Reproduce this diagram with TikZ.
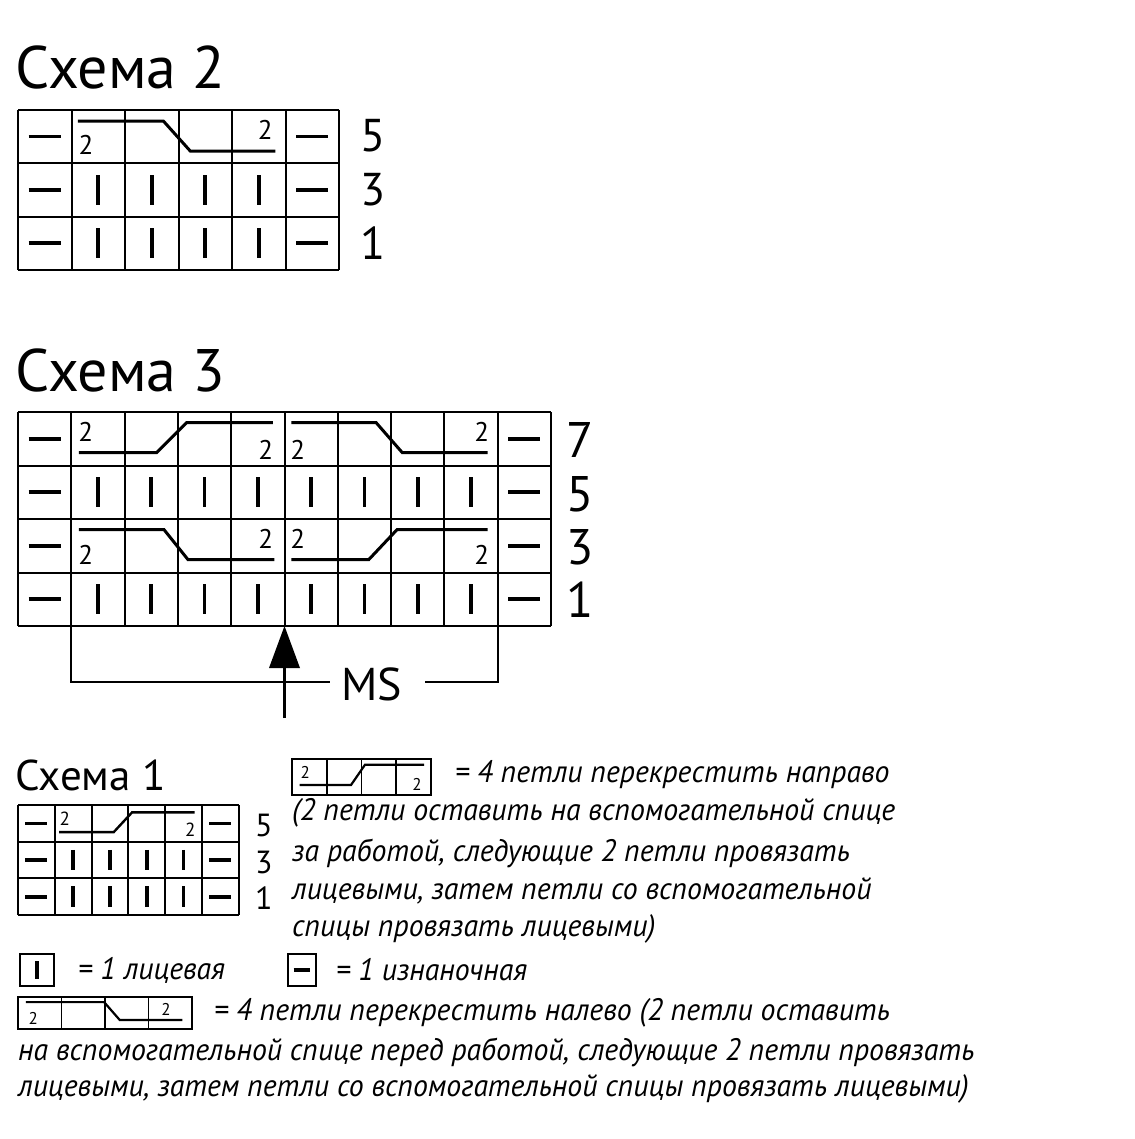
\documentclass[tikz,border=0pt]{standalone}
\usepackage{fontspec}
\setmainfont{PT Sans}
\newfontfamily\legfont[FakeStretch=0.96]{PT Sans}
\tikzset{
 gridl/.style={line width=2pt},
 sym/.style={line width=3.6pt},
 cab/.style={line width=3pt},
 title/.style={anchor=west,inner sep=0,font=\fontsize{60}{64}\selectfont},
 rnum/.style={anchor=west,inner sep=0},
 two/.style={inner sep=0},
 leg/.style={anchor=west,inner sep=0,font=\legfont\itshape\fontsize{31}{34}\selectfont},
}
\newcommand\knit[2]{\draw[sym] (#1+.5,#2+.22)--(#1+.5,#2+.78);}
\newcommand\purl[2]{\draw[sym] (#1+.2,#2+.5)--(#1+.8,#2+.5);}
\newcommand\gridbox[3][gridl]{%
 \foreach \i in {0,...,#2}{\draw[#1] (\i,0)--(\i,#3);}
 \foreach \j in {0,...,#3}{\draw[#1] (0,\j)--(#2,\j);}}
\begin{document}
\begin{tikzpicture}[x=1pt,y=-1pt]
\useasboundingbox (0,0) rectangle (1134,1139);
% ---- Schema 2
\node[title] (t2) at (15,68) {Схема 2};
\begin{scope}[shift={(18,110)},x=53.5pt,y=-53.3pt]
 \gridbox{6}{3}
 \foreach \r in {0,1,2}{\purl{0}{\r}\purl{5}{\r}}
 \foreach \r in {1,2}{\foreach \c in {1,...,4}{\knit{\c}{\r}}}
 \draw[cab] (1.12,.21)--(2.72,.21)--(3.22,.77)--(4.81,.77);
 \node[two,font=\fontsize{27}{27}\selectfont] (s2a) at (1.27,.65) {2};
 \node[two,font=\fontsize{27}{27}\selectfont] (s2b) at (4.62,.38) {2};
\end{scope}
\foreach \n/\y in {5/136,3/190,1/243}{\node[rnum,font=\fontsize{46}{46}\selectfont] (r2\n) at (360,\y) {\n};}
% ---- Schema 3
\node[title] (t3) at (15,370) {Схема 3};
\begin{scope}[shift={(18,412)},x=53.3pt,y=-53.5pt]
 \gridbox{10}{4}
 \foreach \r in {0,...,3}{\purl{0}{\r}\purl{9}{\r}}
 \foreach \r in {1,3}{\foreach \c in {1,...,8}{\knit{\c}{\r}}}
 \tikzset{every node/.style={two,font=\fontsize{27}{27}\selectfont}}
 \draw[cab] (1.14,.76)--(2.6,.76)--(3.16,.2)--(4.78,.2);
 \node (a1) at (1.27,.38) {2}; \node (a2) at (4.65,.7) {2};
 \draw[cab] (5.13,.2)--(6.72,.2)--(7.21,.76)--(8.81,.76);
 \node (a3) at (5.25,.7) {2}; \node (a4) at (8.7,.38) {2};
 \draw[cab] (1.14,2.2)--(2.74,2.2)--(3.19,2.76)--(4.81,2.76);
 \node (b1) at (1.27,2.67) {2}; \node (b2) at (4.65,2.38) {2};
 \draw[cab] (5.13,2.76)--(6.58,2.76)--(7.11,2.2)--(8.81,2.2);
 \node (b3) at (5.25,2.38) {2}; \node (b4) at (8.7,2.67) {2};
\end{scope}
\foreach \n/\y in {7/440,5/494,3/547,1/600}{\node[rnum,font=\fontsize{50}{50}\selectfont] (r3\n) at (566,\y) {\n};}
\node[inner sep=0,font=\fontsize{46}{46}\selectfont] (ms) at (372,684) {MS};
\coordinate (bl) at (71.3,626); \coordinate (br) at (497.7,626);
\coordinate (bll) at (71.3,682); \coordinate (blr) at (330,682);
\coordinate (brl) at (425,682); \coordinate (brr) at (497.7,682);
\draw[gridl] (bl)--(bll)--(blr);
\draw[gridl] (brl)--(brr)--(br);
\coordinate (ab) at (284.5,718); \coordinate (at) at (284.5,626);
\draw[line width=3.5pt] (ab)--(284.5,660);
\fill (at)--(269,668)--(300,668)--cycle;
% ---- Schema 1
\node[title,font=\fontsize{43}{46}\selectfont] (t1) at (15,775) {Схема 1};
\begin{scope}[shift={(18,805)},x=36.8pt,y=-36.7pt]
 \gridbox{6}{3}
 \foreach \r in {0,1,2}{\purl{0}{\r}\purl{5}{\r}}
 \foreach \r in {1,2}{\foreach \c in {1,...,4}{\knit{\c}{\r}}}
 \draw[cab,line width=2.4pt] (1.12,.74)--(2.6,.74)--(3.1,.2)--(4.8,.2);
 \node[two,font=\fontsize{19}{19}\selectfont] (s1a) at (1.27,.38) {2};
 \node[two,font=\fontsize{19}{19}\selectfont] (s1b) at (4.68,.68) {2};
\end{scope}
\foreach \n/\y in {5/825,3/862,1/898}{\node[rnum,font=\fontsize{32}{32}\selectfont] (r1\n) at (255,\y) {\n};}
% ---- Legend
\begin{scope}[shift={(292,759)},x=34.75pt,y=-36pt]
 \draw[line width=1.8pt] (0,0) rectangle (4,1);
 \foreach \c in {1,2,3}{\draw[line width=1.8pt] (\c,0)--(\c,1);}
 \draw[line width=2.2pt] (.22,.72)--(1.7,.72)--(2.1,.16)--(3.8,.16);
 \node[two,font=\fontsize{17}{17}\selectfont] (l1a) at (.38,.38) {2};
 \node[two,font=\fontsize{17}{17}\selectfont] (l1b) at (3.6,.7) {2};
\end{scope}
\node[leg] (x1) at (455,775) {= 4 петли перекрестить направо};
\node[leg] (x2) at (292,813) {(2 петли оставить на вспомогательной спице};
\node[leg] (x3) at (292,853) {за работой, следующие 2 петли провязать};
\node[leg] (x4) at (292,891) {лицевыми, затем петли со вспомогательной};
\node[leg] (x5) at (292,929) {спицы провязать лицевыми)};
\begin{scope}[shift={(20,954)},x=34pt,y=-32pt]
 \draw[line width=1.8pt] (0,0) rectangle (1,1);
 \knit{0}{0}
\end{scope}
\node[leg] (x6) at (78,970) {= 1 лицевая};
\begin{scope}[shift={(288,954)},x=28pt,y=-32pt]
 \draw[line width=1.8pt] (0,0) rectangle (1,1);
 \purl{0}{0}
\end{scope}
\node[leg] (x7) at (336,970) {= 1 изнаночная};
\begin{scope}[shift={(18,997)},x=43.5pt,y=-32pt]
 \draw[line width=1.8pt] (0,0) rectangle (4,1);
 \foreach \c in {1,2,3}{\draw[line width=1.8pt] (\c,0)--(\c,1);}
 \draw[line width=2.2pt] (.18,.16)--(1.98,.16)--(2.34,.72)--(3.78,.72);
 \node[two,font=\fontsize{17}{17}\selectfont] (l2a) at (.35,.68) {2};
 \node[two,font=\fontsize{17}{17}\selectfont] (l2b) at (3.4,.38) {2};
\end{scope}
\node[leg] (x8) at (214,1013) {= 4 петли перекрестить налево (2 петли оставить};
\node[leg] (x9) at (18,1052) {на вспомогательной спице перед работой, следующие 2 петли провязать};
\node[leg] (x10) at (18,1089) {лицевыми, затем петли со вспомогательной спицы провязать лицевыми)};
\end{tikzpicture}
\end{document}
